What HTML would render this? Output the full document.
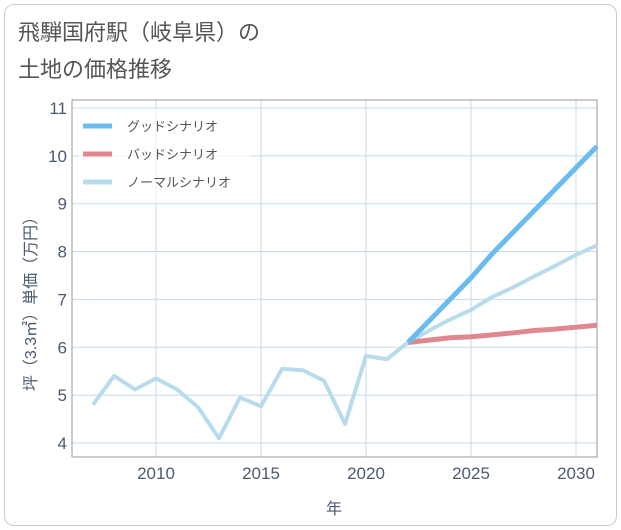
<!DOCTYPE html>
<html><head><meta charset="utf-8"><style>
body{margin:0;background:#fff;font-family:"Liberation Sans","Noto Sans CJK JP",sans-serif;}
#card{position:absolute;left:4px;top:4px;width:611px;height:520px;border:1px solid #ccc;border-radius:10px;background:#fff;}
</style></head><body>
<div id="card"></div>
<svg id="s" width="621" height="530" style="position:absolute;left:0;top:0">
<text x="18" y="40" font-size="22" fill="#555">飛騨国府駅（岐阜県）の</text>
<text x="18" y="77" font-size="22" fill="#555">土地の価格推移</text>
</svg>
<script>
const years=[2007,2008,2009,2010,2011,2012,2013,2014,2015,2016,2017,2018,2019,2020,2021,2022];
const normalHist=[4.8,5.4,5.12,5.35,5.12,4.75,4.1,4.95,4.77,5.55,5.52,5.3,4.4,5.82,5.75,6.1];
const fYears=[2022,2023,2024,2025,2026,2027,2028,2029,2030,2031];
const good=[6.1,6.55,7.0,7.45,7.95,8.4,8.85,9.3,9.75,10.2];
const bad=[6.1,6.15,6.2,6.22,6.26,6.3,6.35,6.38,6.42,6.46];
const normal=[6.1,6.35,6.58,6.78,7.05,7.25,7.48,7.7,7.93,8.13];
const xTicks=[2010,2015,2020,2025,2030];
const yTicks=[4,5,6,7,8,9,10,11];
const L=72,R=597,T=100,B=457;
const X=v=>156+(v-2010)*21;
const Y=v=>443-(v-4)*47.86;
const s=document.getElementById('s');const NS='http://www.w3.org/2000/svg';
function mk(t,a,p){const e=document.createElementNS(NS,t);for(const k in a)e.setAttribute(k,a[k]);(p||s).appendChild(e);return e;}
xTicks.forEach(y=>{const x=X(y);const l=mk('line',{x1:x,x2:x,y1:T,y2:B,stroke:'#c8dbe8','stroke-width':1});

});
yTicks.forEach(v=>{const y=Y(v);const l=mk('line',{x1:L,x2:R,y1:y,y2:y,stroke:'#c8dbe8','stroke-width':1});

});
let r=mk('rect',{x:L,y:T,width:R-L,height:B-T,fill:'none',stroke:'#999','stroke-width':1});


xTicks.forEach(t=>{const e=mk('text',{x:X(t),y:479,'font-size':17,fill:'#4a5a70','text-anchor':'middle'});e.textContent=t;

});
yTicks.forEach(t=>{const e=mk('text',{x:67,y:Y(t)+6,'font-size':17,fill:'#4a5a70','text-anchor':'end'});e.textContent=t;

});
let xt=mk('text',{x:334,y:514,'font-size':16,fill:'#4a5a70','text-anchor':'middle'});xt.textContent='年';


let yt=mk('text',{x:0,y:0,'font-size':16,fill:'#4a5a70','text-anchor':'middle',transform:'translate(36,300) rotate(-90)'});yt.textContent='坪（3.3㎡）単価（万円）';


function line(xs,vs,c,w,n){const p=mk('polyline',{points:xs.map((x,i)=>X(x)+','+Y(vs[i])).join(' '),fill:'none',stroke:c,'stroke-width':w,'stroke-linejoin':'round'});

}
line(years,normalHist,'#b8dcec',4,'normal-history-line');
line(fYears,normal,'#b8dcec',4,'normal-scenario-line');
line(fYears,bad,'#e08890',5,'bad-scenario-line');
line(fYears,good,'#6abcf0',5,'good-scenario-line');
let lg=mk('rect',{x:78,y:110,width:172,height:92,fill:'rgba(255,255,255,0.6)',stroke:'none'});


[['グッドシナリオ','#6abcf0'],['バッドシナリオ','#e08890'],['ノーマルシナリオ','#b8dcec']].forEach((d,i)=>{const y=126+i*28;
const l=mk('line',{x1:83,x2:112,y1:y,y2:y,stroke:d[1],'stroke-width':5});


const t=mk('text',{x:127,y:y+5,'font-size':13,fill:'#555'});t.textContent=d[0];

});
</script>
</body></html>
